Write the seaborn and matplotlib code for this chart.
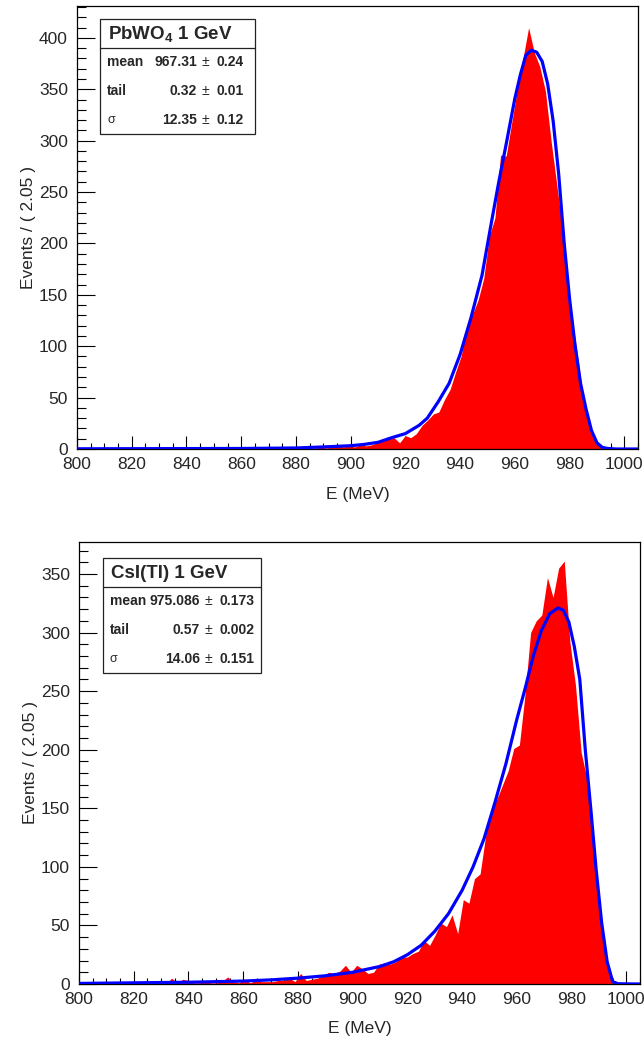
import numpy as np
import pandas as pd
import seaborn as sns
import matplotlib.pyplot as plt
from matplotlib.patches import Rectangle
from matplotlib.lines import Line2D
from matplotlib.ticker import MultipleLocator

sns.set_style("ticks")
plt.rcParams['font.family'] = ['Liberation Sans', 'DejaVu Sans']
plt.rcParams['mathtext.fontset'] = 'custom'
plt.rcParams['mathtext.rm'] = 'Liberation Sans:bold'
plt.rcParams['mathtext.default'] = 'rm'

# binning: 100 bins of 2.05 MeV starting at 800 MeV
bin_lo = 800.0
bin_w = 2.05
n_bins = 100
e_max = 1005.0

# PbWO4 histogram counts (per bin)
pbwo_counts = [
    0, 0, 0, 0, 0, 0, 0, 0, 0, 0,
    0, 0, 0, 0, 0, 0, 0, 0, 0, 0,
    0, 0, 0, 0, 0, 0, 0, 0, 0, 0,
    0, 0, 0, 0, 0, 0, 1, 0, 0, 1,
    1, 0, 1, 2, 1, 2, 3, 2, 3, 2,
    4, 3, 4, 6, 8, 12, 11, 6, 13, 11,
    15, 23, 28, 34, 36, 48, 58, 75, 91, 120,
    131, 145, 166, 207, 225, 286, 285, 318, 350, 380,
    410, 386, 372, 348, 300, 258, 215, 160, 118, 80,
    38, 17, 5, 2, 1, 0, 0, 0, 0, 0,
]

# CsI(Tl) histogram counts (per bin)
csi_counts = [
    0, 0, 0, 0, 0, 0, 0, 0, 0, 0,
    0, 0, 0, 0, 0, 0, 5, 1, 4, 3,
    1, 1, 3, 1, 1, 2, 6, 2, 1, 4,
    1, 3, 2, 2, 2, 3, 3, 5, 2, 9,
    3, 4, 5, 7, 10, 9, 11, 16, 10, 16,
    13, 9, 10, 17, 18, 17, 19, 23, 23, 26,
    28, 37, 33, 42, 52, 49, 59, 43, 72, 69,
    90, 94, 127, 147, 158, 170, 182, 201, 204, 247,
    300, 310, 315, 347, 330, 355, 361, 292, 255, 198,
    176, 124, 79, 33, 12, 1, 0, 0, 0, 0,
]

# fitted curves
pbwo_fit_e = [800, 860, 880, 890, 900, 905, 910, 915, 920, 925, 928, 932, 936, 940,
              944, 948, 951, 954, 957, 960, 962, 964, 966, 968, 970, 972, 974, 976,
              978, 980, 982, 984, 986, 988, 990, 992, 994, 997, 1005]
pbwo_fit_n = [0.2, 0.5, 1, 2, 3.2, 4.5, 6.5, 11, 15, 23, 30, 46, 64, 92,
              128, 169, 214, 258, 299, 341, 364, 383, 388, 386, 377, 355, 319, 268,
              201, 146, 101, 64, 39, 18, 6, 1.5, 0.5, 0, 0]

csi_fit_e = [800, 820, 840, 860, 870, 880, 890, 900, 910, 915, 920, 925, 930, 935,
             940, 944, 948, 952, 956, 960, 963, 966, 969, 972, 975, 977, 979, 981,
             983, 985, 987, 989, 991, 993, 995, 997, 1005]
csi_fit_n = [0.5, 1, 1.5, 2.5, 3.5, 5, 7, 10, 15, 19, 25, 33, 45, 60,
             80, 100, 124, 155, 188, 226, 252, 280, 302, 316, 321, 319, 309, 288,
             260, 200, 150, 97, 52, 19, 2, 0.2, 0]

# fit result boxes
pbwo_title = r"PbWO$_4$ 1 GeV"
csi_title = "CsI(Tl) 1 GeV"
par_names = ["mean", "tail", "\u03c3"]
pbwo_vals = ["967.31", "0.32", "12.35"]
pbwo_errs = ["0.24", "0.01", "0.12"]
csi_vals = ["975.086", "0.57", "14.06"]
csi_errs = ["0.173", "0.002", "0.151"]

W, H = 644, 1041
fig = plt.figure(figsize=(W / 100, H / 100), dpi=100)


def fx(x):
    return x / W


def fy(y):
    return 1 - y / H


def draw_panel(rect, counts, fit_e, fit_n, ymax, ymaj, ylab_x, xlab_y):
    left, top, right, bottom = rect
    ax = fig.add_axes([fx(left), fy(bottom), fx(right) - fx(left), fy(top) - fy(bottom)])
    centers = bin_lo + bin_w * (np.arange(n_bins) + 0.5)
    df = pd.DataFrame({"E": centers, "N": counts})
    ax.fill_between(df["E"], df["N"], 0, color="#ff0000", lw=0, zorder=2)
    fit = pd.DataFrame({"E": fit_e, "N": fit_n})
    sns.lineplot(data=fit, x="E", y="N", color="#0000ff", lw=2.3, ax=ax, zorder=3)
    ax.set_xlim(bin_lo, e_max)
    ax.set_ylim(0, ymax)
    ax.xaxis.set_major_locator(MultipleLocator(20))
    ax.xaxis.set_minor_locator(MultipleLocator(5))
    ax.yaxis.set_major_locator(MultipleLocator(ymaj))
    ax.yaxis.set_minor_locator(MultipleLocator(10))
    ax.tick_params(axis="x", which="major", direction="in", length=9.4, width=0.8,
                   labelsize=12.5, pad=5.5, color="black", top=False)
    ax.tick_params(axis="x", which="minor", direction="in", length=4.6, width=0.8,
                   top=False, color="black")
    ax.tick_params(axis="y", which="major", direction="in", length=12.8, width=0.8,
                   labelsize=12.5, pad=6.5, color="black", right=False)
    ax.tick_params(axis="y", which="minor", direction="in", length=6.3, width=0.8,
                   right=False, color="black")
    for s in ax.spines.values():
        s.set_color("black")
        s.set_linewidth(0.9)
        s.set_visible(True)
    ax.set_xlabel("E (MeV)", fontsize=12.5)
    ax.set_ylabel("Events / ( 2.05 )", fontsize=12.5)
    ax.xaxis.set_label_coords(0.5, xlab_y)
    ax.yaxis.set_label_coords(ylab_x, 0.5)
    ax.grid(False)
    return ax


def draw_box(box, title, vals, errs):
    bl, bt, br, bb, sep = box
    fig.patches.append(Rectangle((fx(bl), fy(bb)), fx(br) - fx(bl), fy(bt) - fy(bb),
                                 transform=fig.transFigure, facecolor="white",
                                 edgecolor="#222222", lw=0.9, zorder=5))
    fig.lines.append(Line2D([fx(bl), fx(br)], [fy(sep), fy(sep)],
                            transform=fig.transFigure, color="#222222", lw=0.9, zorder=6))
    fig.text(fx(bl + 8), fy((bt + sep) / 2 + 1), title, fontsize=13.5, fontweight="bold",
             ha="left", va="center", zorder=7)
    row_h = (bb - sep) / 3
    for k, (name, v, e) in enumerate(zip(par_names, vals, errs)):
        yc = sep + row_h * (k + 0.5)
        if name == "\u03c3":
            fig.text(fx(bl + 7), fy(yc), name, fontsize=9, ha="left", va="center", zorder=7)
        else:
            fig.text(fx(bl + 7), fy(yc), name, fontsize=10, fontweight="bold",
                     ha="left", va="center", zorder=7)
        fig.text(fx(bl + 97), fy(yc), v, fontsize=10, fontweight="bold",
                 ha="right", va="center", zorder=7)
        fig.text(fx(bl + 105), fy(yc), "\u00b1", fontsize=10,
                 ha="center", va="center", zorder=7)
        fig.text(fx(bl + 116), fy(yc), e, fontsize=10, fontweight="bold",
                 ha="left", va="center", zorder=7)


ax1 = draw_panel((77, 6, 638, 449), pbwo_counts, pbwo_fit_e, pbwo_fit_n,
                 431, 50, (35.5 - 77) / 561, (449 - 487) / 443)
ax2 = draw_panel((79, 542, 640, 984), csi_counts, csi_fit_e, csi_fit_n,
                 377.3, 50, (37.5 - 79) / 561, (984 - 1021) / 442)

draw_box((100, 19, 255, 134, 48), pbwo_title, pbwo_vals, pbwo_errs)
draw_box((103, 558, 261, 673, 587), csi_title, csi_vals, csi_errs)

fig.savefig("out.png", dpi=100, facecolor="white")
